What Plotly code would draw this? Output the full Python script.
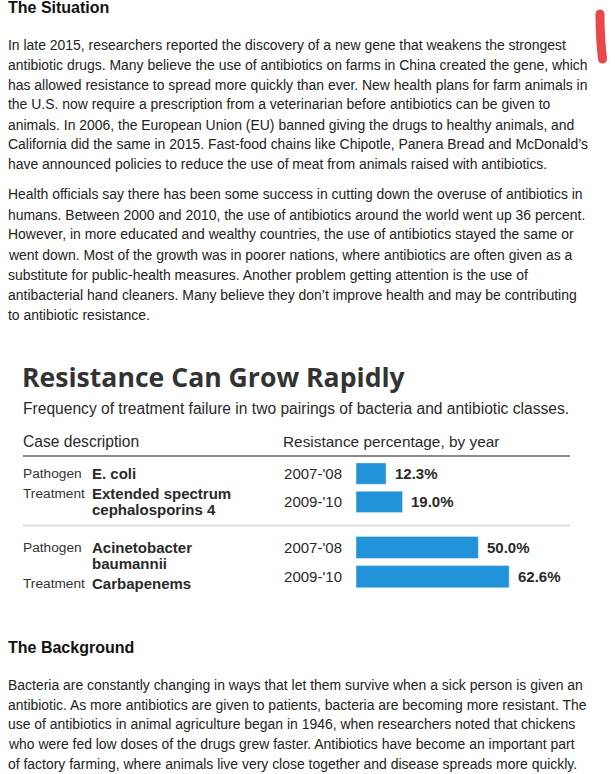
import plotly.graph_objects as go

W, H = 615, 774

# ---------------- data ----------------
years = ["2007-'08", "2009-'10"]
ecoli_values = [12.3, 19.0]
acineto_values = [50.0, 62.6]

heading_1 = "The Situation"
para_1 = [
    "In late 2015, researchers reported the discovery of a new gene that weakens the strongest",
    "antibiotic drugs. Many believe the use of antibiotics on farms in China created the gene, which",
    "has allowed resistance to spread more quickly than ever. New health plans for farm animals in",
    "the U.S. now require a prescription from a veterinarian before antibiotics can be given to",
    "animals. In 2006, the European Union (EU) banned giving the drugs to healthy animals, and",
    "California did the same in 2015. Fast-food chains like Chipotle, Panera Bread and McDonald\u2019s",
    "have announced policies to reduce the use of meat from animals raised with antibiotics.",
]
para_2 = [
    "Health officials say there has been some success in cutting down the overuse of antibiotics in",
    "humans. Between 2000 and 2010, the use of antibiotics around the world went up 36 percent.",
    "However, in more educated and wealthy countries, the use of antibiotics stayed the same or",
    "went down. Most of the growth was in poorer nations, where antibiotics are often given as a",
    "substitute for public-health measures. Another problem getting attention is the use of",
    "antibacterial hand cleaners. Many believe they don\u2019t improve health and may be contributing",
    "to antibiotic resistance.",
]
heading_2 = "The Background"
para_3 = [
    "Bacteria are constantly changing in ways that let them survive when a sick person is given an",
    "antibiotic. As more antibiotics are given to patients, bacteria are becoming more resistant. The",
    "use of antibiotics in animal agriculture began in 1946, when researchers noted that chickens",
    "who were fed low doses of the drugs grew faster. Antibiotics have become an important part",
    "of factory farming, where animals live very close together and disease spreads more quickly.",
]

chart_title = "Resistance Can Grow Rapidly"
chart_subtitle = "Frequency of treatment failure in two pairings of bacteria and antibiotic classes."
col_header_left = "Case description"
col_header_right = "Resistance percentage, by year"

group1_desc = [("Pathogen", "E. coli"), ("Treatment", "Extended spectrum"), ("", "cephalosporins 4")]
group2_desc = [("Pathogen", "Acinetobacter"), ("", "baumannii"), ("Treatment", "Carbapenems")]

# ---------------- helpers ----------------
PAD = 2  # annotation inner padding


def px(x):
    return x / W


def py(y):
    return 1 - y / H


BODY_FONT = "Liberation Sans, Arial, sans-serif"
TITLE_FONT = "Open Sans, sans-serif"
BAR_COLOR = "#2293d8"
TEXT = "#222222"

fig = go.Figure()

fig.add_trace(go.Bar(x=ecoli_values, y=years, orientation="h", marker_color=BAR_COLOR,
                     width=0.76, xaxis="x", yaxis="y", hoverinfo="skip"))
fig.add_trace(go.Bar(x=acineto_values, y=years, orientation="h", marker_color=BAR_COLOR,
                     width=0.76, xaxis="x2", yaxis="y2", hoverinfo="skip"))

annotations = []


def text_line(x, y, s, size=13.95, bold=False, color=TEXT, family=BODY_FONT):
    annotations.append(dict(
        x=px(x - PAD), y=py(y), xref="paper", yref="paper", xanchor="left", yanchor="middle",
        text=f"<b>{s}</b>" if bold else s, showarrow=False,
        font=dict(size=size, color=color, family=family)))


# body text
text_line(8, 8, heading_1, size=16, bold=True, color="#111111")
p1_y = [45, 64.5, 84.5, 104.5, 124.5, 144.5, 164]
for y, s in zip(p1_y, para_1):
    text_line(8, y, s)
p2_y = [194.5, 214.5, 234.5, 254.5, 274.5, 294.5, 314.5]
for y, s in zip(p2_y, para_2):
    text_line(8, y, s)
text_line(8, 647, heading_2, size=16, bold=True, color="#111111")
p3_y = [685, 704.5, 724, 743.5, 763.5]
for y, s in zip(p3_y, para_3):
    text_line(8, y, s)

# chart text
text_line(21.5, 377, chart_title, size=26.6, bold=True, color="#333333", family=TITLE_FONT)
text_line(23, 408, chart_subtitle, size=15.6, color="#2a2a2a")
text_line(23, 441.5, col_header_left, size=15.6, color="#2a2a2a")
text_line(283, 441.5, col_header_right, size=15.4, color="#2a2a2a")

g1_y = [473.5, 493.5, 509]
for y, (lab, val) in zip(g1_y, group1_desc):
    if lab:
        text_line(23, y, lab, size=13.7, color="#333333")
    text_line(92, y, val, size=15, bold=True, color="#2a2a2a")
g2_y = [547.5, 563, 583]
for y, (lab, val) in zip(g2_y, group2_desc):
    if lab:
        text_line(23, y, lab, size=13.7, color="#333333")
    text_line(92, y, val, size=15, bold=True, color="#2a2a2a")

# value labels
for xa, ya, vals in (("x", "y", ecoli_values), ("x2", "y2", acineto_values)):
    for yr, v in zip(years, vals):
        annotations.append(dict(
            x=v, y=yr, xref=xa, yref=ya, xanchor="left", yanchor="middle", xshift=7,
            text=f"<b>{v:.1f}%</b>", showarrow=False,
            font=dict(size=15, color="#2a2a2a", family=BODY_FONT)))

shapes = [
    dict(type="line", xref="paper", yref="paper", x0=px(23), x1=px(570), y0=py(456), y1=py(456),
         line=dict(color="#8a8a8a", width=2)),
    dict(type="line", xref="paper", yref="paper", x0=px(23), x1=px(570), y0=py(525.5), y1=py(525.5),
         line=dict(color="#dddddd", width=2)),
    # red pen mark
    dict(type="path", xref="paper", yref="paper",
         path=f"M {px(600)} {py(14)} Q {px(600)} {py(38)} {px(602.5)} {py(59)}",
         line=dict(color="#e8474c", width=9)),
    dict(type="circle", xref="paper", yref="paper", x0=px(595.5), x1=px(604.5), y0=py(18.5), y1=py(9.5),
         line=dict(width=0), fillcolor="#e8474c"),
    dict(type="circle", xref="paper", yref="paper", x0=px(598), x1=px(607), y0=py(63.5), y1=py(54.5),
         line=dict(width=0), fillcolor="#e8474c"),
]

X0, X1 = 356, 570
SCALE = 2.447  # px per percent
xr = [0, (X1 - X0) / SCALE]
common_x = dict(range=xr, showgrid=False, zeroline=False, showticklabels=False, showline=False,
                fixedrange=True)
common_y = dict(type="category", autorange="reversed", showgrid=False, zeroline=False, showline=False,
                ticks="", ticklabelstandoff=13,
                tickfont=dict(size=15, color="#2a2a2a", family=BODY_FONT), fixedrange=True)

fig.update_layout(
    width=W, height=H, margin=dict(l=0, r=0, t=0, b=0),
    paper_bgcolor="white", plot_bgcolor="white", showlegend=False,
    xaxis=dict(domain=[px(X0), px(X1)], anchor="y", **common_x),
    xaxis2=dict(domain=[px(X0), px(X1)], anchor="y2", **common_x),
    yaxis=dict(domain=[py(516), py(459.5)], anchor="x", **common_y),
    yaxis2=dict(domain=[py(591.3), py(532.9)], anchor="x2", **common_y),
    annotations=annotations, shapes=shapes,
)

fig.write_html("out.html", config={"displayModeBar": False},
               post_script="document.body.style.margin='0';document.body.style.overflow='hidden';")
